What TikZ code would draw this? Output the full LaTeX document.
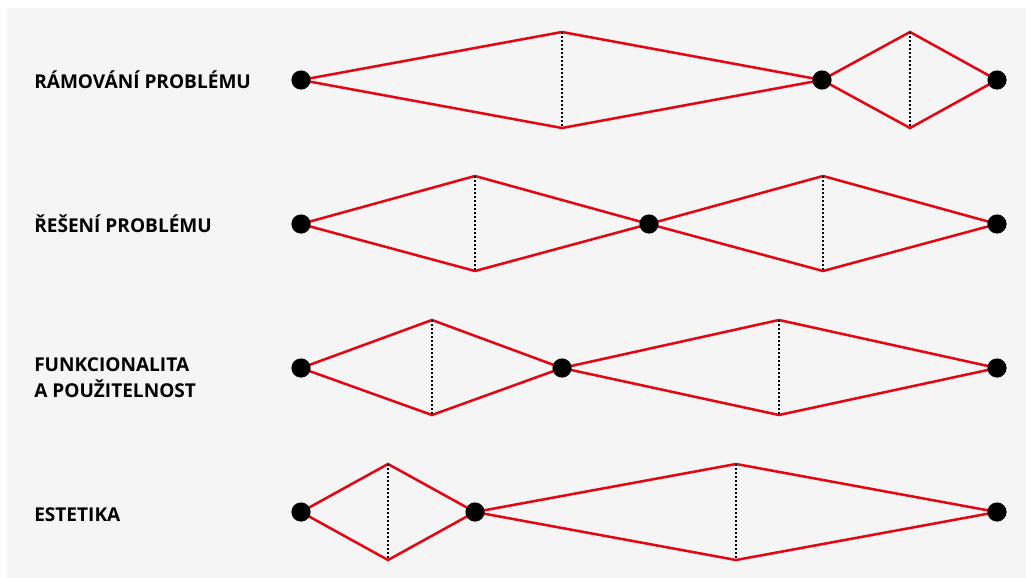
\documentclass[tikz,border=0pt]{standalone}
\usepackage{fontspec}
\setmainfont{Open Sans}
\usepackage{tikz}
\usetikzlibrary{calc}

\definecolor{cervena}{RGB}{227,6,19}
\definecolor{pozadi}{RGB}{245,245,245}

\tikzset{
    vlna/.style={cervena, line width=1.9pt, line join=miter},
    osa/.style={black, line width=1.4pt, dash pattern=on 1.2pt off 1.8pt},
    uzel/.style={fill=black},
    popis/.style={anchor=base west, inner sep=0pt, font=\fontsize{14.3}{19.5}\selectfont\bfseries}
}

\begin{document}
\begin{tikzpicture}[x=0.75pt, y=-0.75pt]
    \useasboundingbox (0,0) rectangle (1026,578);
    \fill[pozadi] (7,8) rectangle (1026,578);
    % radek 1
    \coordinate (A1) at (301,80); \coordinate (B1) at (822,80); \coordinate (C1) at (997,80);
    \coordinate (A1t) at (562,32); \coordinate (A1b) at (562,128);
    \coordinate (B1t) at (910,32); \coordinate (B1b) at (910,128);
    \draw[vlna] (A1) -- (A1t) -- (B1) -- (A1b) -- cycle;
    \draw[vlna] (B1) -- (B1t) -- (C1) -- (B1b) -- cycle;
    \draw[osa] (A1t) -- (A1b); \draw[osa] (B1t) -- (B1b);
    % radek 2
    \coordinate (A2) at (301,224); \coordinate (B2) at (649,224); \coordinate (C2) at (997,224);
    \coordinate (A2t) at (475,176); \coordinate (A2b) at (475,271);
    \coordinate (B2t) at (823,176); \coordinate (B2b) at (823,271);
    \draw[vlna] (A2) -- (A2t) -- (B2) -- (A2b) -- cycle;
    \draw[vlna] (B2) -- (B2t) -- (C2) -- (B2b) -- cycle;
    \draw[osa] (A2t) -- (A2b); \draw[osa] (B2t) -- (B2b);
    % radek 3
    \coordinate (A3) at (301,368); \coordinate (B3) at (562,368); \coordinate (C3) at (997,368);
    \coordinate (A3t) at (432,320); \coordinate (A3b) at (432,415);
    \coordinate (B3t) at (779,320); \coordinate (B3b) at (779,415);
    \draw[vlna] (A3) -- (A3t) -- (B3) -- (A3b) -- cycle;
    \draw[vlna] (B3) -- (B3t) -- (C3) -- (B3b) -- cycle;
    \draw[osa] (A3t) -- (A3b); \draw[osa] (B3t) -- (B3b);
    % radek 4
    \coordinate (A4) at (301,512); \coordinate (B4) at (475,512); \coordinate (C4) at (997,512);
    \coordinate (A4t) at (388,464); \coordinate (A4b) at (388,560);
    \coordinate (B4t) at (736,464); \coordinate (B4b) at (736,560);
    \draw[vlna] (A4) -- (A4t) -- (B4) -- (A4b) -- cycle;
    \draw[vlna] (B4) -- (B4t) -- (C4) -- (B4b) -- cycle;
    \draw[osa] (A4t) -- (A4b); \draw[osa] (B4t) -- (B4b);
    % body
    \fill[uzel] (A1) circle (7.2pt); \fill[uzel] (B1) circle (7.2pt); \fill[uzel] (C1) circle (7.2pt);
    \fill[uzel] (A2) circle (7.2pt); \fill[uzel] (B2) circle (7.2pt); \fill[uzel] (C2) circle (7.2pt);
    \fill[uzel] (A3) circle (7.2pt); \fill[uzel] (B3) circle (7.2pt); \fill[uzel] (C3) circle (7.2pt);
    \fill[uzel] (A4) circle (7.2pt); \fill[uzel] (B4) circle (7.2pt); \fill[uzel] (C4) circle (7.2pt);
    % popisky
    \node[popis] (ramovani) at (34,88) {RÁMOVÁNÍ PROBLÉMU};
    \node[popis] (reseni) at (34,232) {ŘEŠENÍ PROBLÉMU};
    \node[popis] (funkce) at (34,371) {FUNKCIONALITA};
    \node[popis] (pouzitelnost) at (34,397) {A POUŽITELNOST};
    \node[popis] (estetika) at (34,521) {ESTETIKA};
\end{tikzpicture}
\end{document}
